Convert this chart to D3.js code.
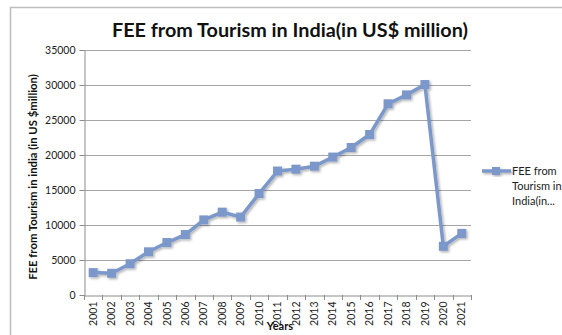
<!DOCTYPE html>
<html><head><meta charset="utf-8">
<script src="https://cdn.jsdelivr.net/npm/d3@7"></script>
<style>body{margin:0;background:#fff}svg{display:block}text{font-family:Lato,"Open Sans",sans-serif}</style>
</head><body>
<script>
const years = ["2001","2002","2003","2004","2005","2006","2007","2008","2009","2010","2011","2012","2013","2014","2015","2016","2017","2018","2019","2020","2021"];
const fee = [3198,3103,4463,6170,7493,8634,10729,11832,11136,14490,17707,17971,18397,19700,21071,22923,27310,28586,30060,6958,8797];
const yTicks = [0,5000,10000,15000,20000,25000,30000,35000];
const title = "FEE from Tourism in India(in US$ million)";
const yTitle = "FEE from Tourism in india (in US $million)";
const xTitle = "Years";
const legendLines = ["FEE from","Tourism in","India(in..."];

const W=562,H=335, color="#7b98cb";
const svg=d3.select("body").append("svg").attr("width",W).attr("height",H);
const defs=svg.append("defs");
const f=defs.append("filter").attr("id","sh").attr("x","-20%").attr("y","-20%").attr("width","140%").attr("height","140%");
f.append("feDropShadow").attr("dx",1.5).attr("dy",1.5).attr("stdDeviation",1).attr("flood-color","#000").attr("flood-opacity",0.3);

svg.append("rect").attr("x",10.5).attr("y",7.5).attr("width",W).attr("height",H).attr("fill","#fff").attr("stroke","#bdbdbd").attr("stroke-width",1.5);

const x=d3.scaleBand().domain(years).range([84,471]);
const y=d3.scaleLinear().domain([0,35000]).range([295,50]);

svg.append("g").selectAll("line").data(yTicks.slice(1)).join("line")
 .attr("x1",84).attr("x2",471).attr("y1",d=>Math.round(y(d))+0.5).attr("y2",d=>Math.round(y(d))+0.5)
 .attr("stroke","#a6a6a6").attr("stroke-width",1);

const yAx=svg.append("g").attr("transform","translate(84.5,0)").call(d3.axisLeft(y).tickValues(yTicks).tickSize(5).tickSizeOuter(0).tickFormat(d3.format("d")));
yAx.select(".domain").attr("stroke","#8c8c8c");
yAx.selectAll(".tick line").attr("stroke","#8c8c8c");
yAx.selectAll("text").attr("font-size",10.5).attr("fill","#222").attr("x",-9);

const xAx=svg.append("g").attr("transform","translate(0,295.5)").call(d3.axisBottom(x).tickSize(0).tickSizeOuter(0));
xAx.select(".domain").attr("stroke","#8c8c8c");
xAx.selectAll(".tick text").attr("font-size",10.5).attr("fill","#222")
 .attr("transform","rotate(-90)").attr("text-anchor","end").attr("x",-6).attr("y",0).attr("dy","0.35em");
svg.append("g").selectAll("line").data(years.concat(["end"])).join("line")
 .attr("x1",(d,i)=>Math.round(84+i*x.step())+0.5).attr("x2",(d,i)=>Math.round(84+i*x.step())+0.5)
 .attr("y1",295).attr("y2",300).attr("stroke","#8c8c8c");

const cx=d=>x(d)+x.bandwidth()/2;
const g=svg.append("g").attr("filter","url(#sh)");
g.append("path").datum(fee).attr("fill","none").attr("stroke",color).attr("stroke-width",3.5).attr("stroke-linejoin","round")
 .attr("d",d3.line().x((d,i)=>cx(years[i])).y(d=>y(d)));
g.selectAll("rect").data(fee).join("rect")
 .attr("x",(d,i)=>cx(years[i])-4.5).attr("y",d=>y(d)-4.5).attr("width",9).attr("height",9).attr("fill",color);

svg.append("text").attr("x",290).attr("y",37).attr("text-anchor","middle").attr("font-size",19.8).attr("font-weight","bold").attr("fill","#111").text(title);
svg.append("text").attr("transform","translate(37,177) rotate(-90)").attr("text-anchor","middle").attr("font-size",11.3).attr("font-weight","bold").attr("fill","#111").text(yTitle);
svg.append("text").attr("x",280).attr("y",330).attr("text-anchor","middle").attr("font-size",11).attr("font-weight","bold").attr("fill","#111").text(xTitle);

const lg=svg.append("g").attr("filter","url(#sh)");
lg.append("line").attr("x1",482).attr("x2",511).attr("y1",171).attr("y2",171).attr("stroke",color).attr("stroke-width",3.5);
lg.append("rect").attr("x",492).attr("y",167).attr("width",8).attr("height",8).attr("fill",color);
svg.append("g").selectAll("text").data(legendLines).join("text")
 .attr("x",512).attr("y",(d,i)=>175+i*15).attr("font-size",11).attr("fill","#222").text(d=>d);
</script>
</body></html>
